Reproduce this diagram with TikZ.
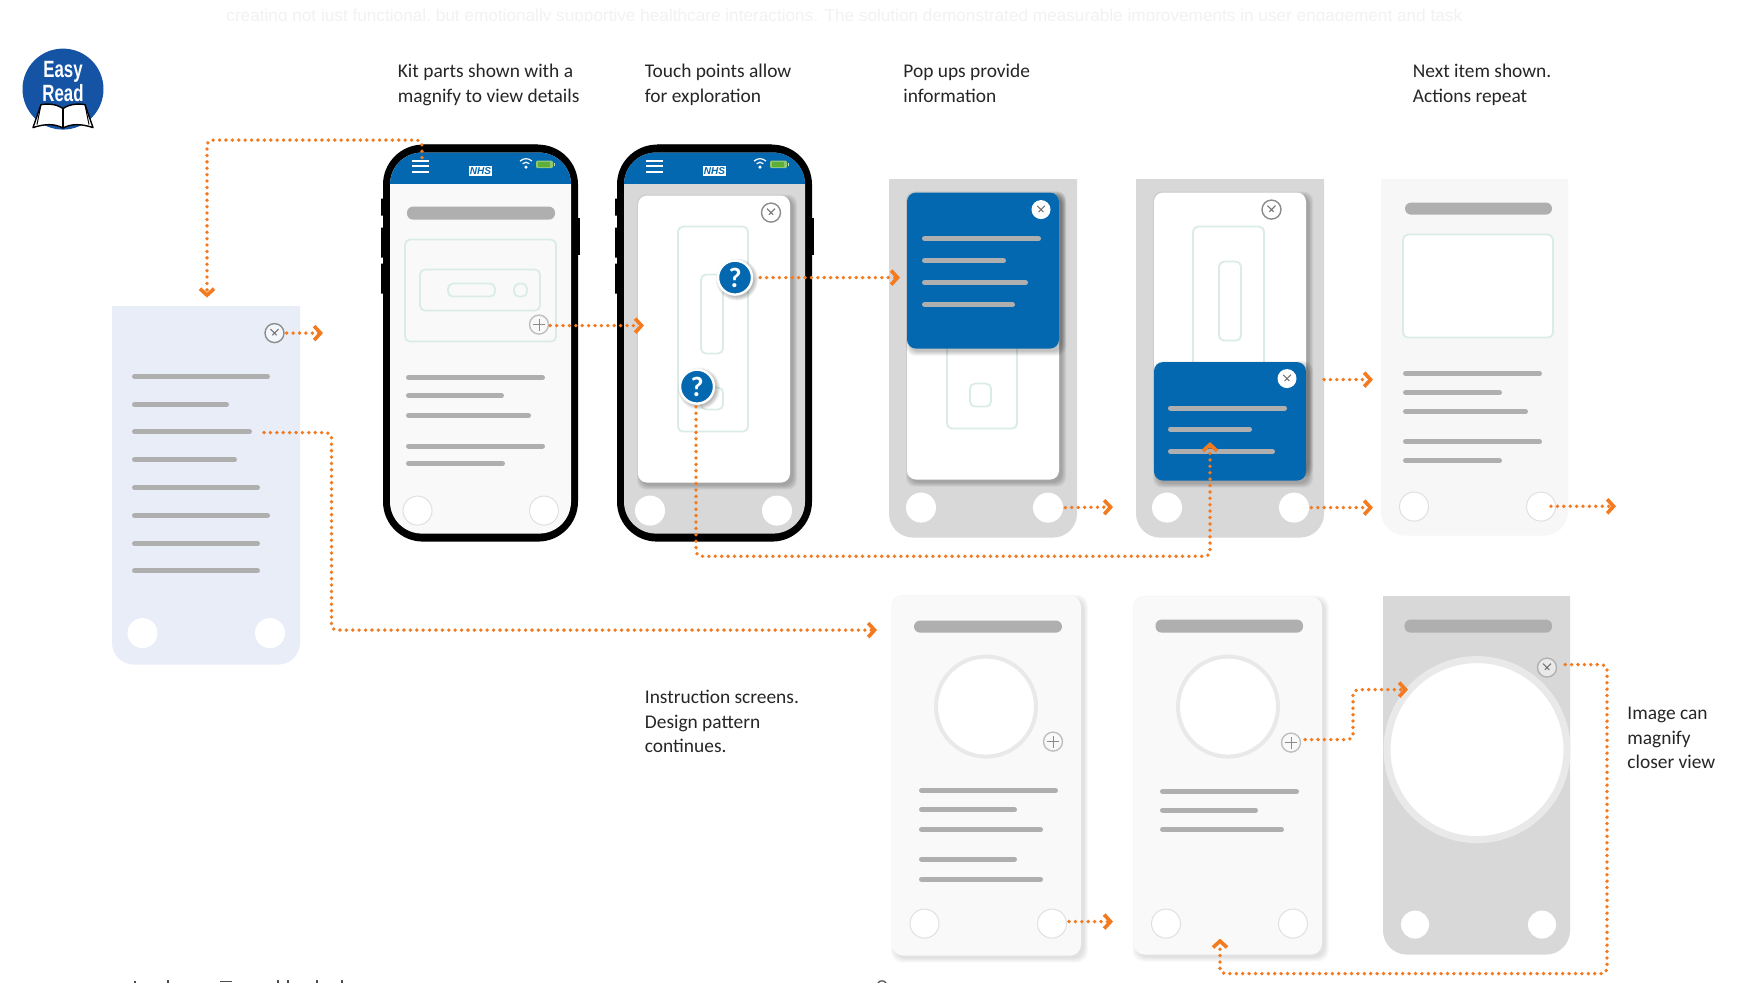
\documentclass[tikz,border=0pt]{standalone}
\usepackage{fontspec}
\setmainfont{Carlito}
\newfontfamily\ghostfont{Liberation Sans}
\usetikzlibrary{arrows.meta}
\definecolor{nhs}{HTML}{0468B1}
\definecolor{logoblue}{HTML}{1553A5}
\definecolor{flow}{HTML}{F47A1F}
\definecolor{bar}{HTML}{AFAFAF}
\definecolor{mint}{HTML}{D9EDE6}
\definecolor{panel}{HTML}{D8D8D8}
\definecolor{paper}{HTML}{F9F9F9}
\definecolor{tint}{HTML}{E8EDF8}
\definecolor{rim}{HTML}{E9E9E9}
\definecolor{batt}{HTML}{5DAF3A}
\tikzset{
  x=0.5pt,y=-0.5pt,
  flowline/.style={draw=flow,line width=1.9pt,line cap=round,dash pattern=on 0pt off 3.2pt,rounded corners=2.5pt,
    -{Straight Barb[length=3.2pt,width=7pt,line width=1.8pt,flow]}},
  caption/.style={anchor=west,inner sep=0pt,align=left,font=\fontsize{9.7pt}{12.3pt}\selectfont,text=black!85},
  txtbar/.style={line width=2.5pt,draw=bar,line cap=round,shorten <=1.25pt,shorten >=1.25pt},
  titlebar/.style={fill=bar,rounded corners=3pt},
  kit/.style={draw=mint,line width=0.9pt,rounded corners=2.5pt},
  btnw/.style={circle,fill=white,inner sep=0pt,minimum size=15pt},
  btnl/.style={circle,fill=white,draw=black!12,line width=0.5pt,inner sep=0pt,minimum size=14.5pt},
  ctl/.style={circle,draw=black!45,line width=0.7pt,inner sep=0pt,minimum size=9.5pt},
  qmark/.style={circle,fill=nhs,draw=white,line width=1.2pt,minimum size=17pt,inner sep=0pt,text=white,font=\fontsize{14pt}{14pt}\bfseries\selectfont},
  cutmark/.style={draw=black!70,line width=0.6pt},
}
\newcommand{\xglyph}[2][black!55]{\draw[#1,line width=0.5pt] (#2.45) ++(-1.6pt,-1.6pt) -- ++(-3.1pt,-3.1pt) (#2.135) ++(1.6pt,-1.6pt) -- ++(3.1pt,-3.1pt);}
\newcommand{\plusglyph}[1]{\draw[black!45,line width=0.5pt] (#1.center) ++(-3pt,0) -- ++(6pt,0) (#1.center) ++(0,-3pt) -- ++(0,6pt);}
\newcommand{\softcard}[7]{%
  \foreach \d in {4,3,2,1,0}
    \fill[black,opacity=#7,rounded corners=#6pt] ({#2+3-\d},{#3+3-\d}) rectangle ({#4+3+\d},{#5+3+\d});
  \fill[#1,rounded corners=#6pt] (#2,#3) rectangle (#4,#5);}
\newcommand{\lowround}[6]{%
  \begin{scope}\clip (#2,#3) rectangle (#4,#5);
  \fill[#1,rounded corners=#6pt] (#2,#3-60) rectangle (#4,#5);\end{scope}}
\newcommand{\roundshade}[2]{\foreach \d in {4,3,2,1,0} \fill[black,opacity=0.06] (#1+2,#2+2) circle ({17+\d});}
\newcommand{\phonebody}[3]{%
  \begin{scope}[shift={(#1,0)}]
    \fill[black] (-2,198) rectangle (2,215) (-2,227) rectangle (2,257) (-2,263) rectangle (2,293);
    \fill[black] (193,217) rectangle (197,254);
    \fill[black!60] (40,143.2) -- (155,143.2) -- (155,146) -- (40,146) -- cycle;
    \fill[black,rounded corners=20pt] (0,144) rectangle (195,541);
    \fill[#2,rounded corners=16pt] (7,152) rectangle (188,533);
    \begin{scope}
      \clip (7,183) rectangle (188,100);
      \fill[nhs,rounded corners=16pt] (7,152) rectangle (188,240);
    \end{scope}
    \foreach \yy in {160,165.5,171} \draw[white,line width=1pt] (29,\yy) -- (46,\yy);
    \node[fill=white,inner sep=0pt,minimum width=11.5pt,minimum height=5pt,text=nhs,
       font=\fontsize{5pt}{5pt}\ghostfont\bfseries\itshape] (#3nhs) at (97.5,170) {NHS};
    \fill[white] (143,166.5) circle (1.7);
    \draw[white,line width=0.6pt] (139.6,163.1) arc (-135:-45:4.8) (137.06,160.56) arc (-135:-45:8.4);
    \fill[white!30!batt,rounded corners=0.6pt] (153,160) rectangle (170,167.5);
    \fill[batt] (155,161.5) rectangle (167,166);
    \fill[white!60!batt] (170.5,162) rectangle (172,165.5);
  \end{scope}
}
\begin{document}
\begin{tikzpicture}
\useasboundingbox (0,-0.6) rectangle (1755,982.4);
\fill[white] (0,-0.6) rectangle (1755,982.4);

% ghost line at the top edge
\begin{scope}
  \clip (0,-0.6) rectangle (1755,20);
  \node[anchor=base west,inner sep=0pt,text=black!5,font=\fontsize{8.6pt}{10pt}\ghostfont] (ghost) at (226,21)
    {creating not just functional, but emotionally supportive healthcare interactions. The solution demonstrated measurable improvements in user engagement and task};
\end{scope}
% tips of unreadable strokes at the bottom edge
\draw[cutmark] (135,980.5) -- (135,983) (168,979.5) -- (168,983) (220,980.5) -- (232,980.5) (278,979.5) -- (278,983)
  (288,979.5) -- (288,983) (317,979.5) -- (317,983) (342,979.5) -- (342,983);
\draw[cutmark] (878,982.4) .. controls (879,979.5) and (885,979.5) .. (886,982.4);

% logo
\node[circle,fill=logoblue,minimum size=40.5pt,inner sep=0pt] (logo) at (63,88.5) {};
\node[inner sep=0pt,align=center,text=white,font=\fontsize{10.5pt}{10.6pt}\fontspec{Liberation Sans}\bfseries] (logotext) at (63,81) {\scalebox{0.8}[1.12]{Easy}\\\scalebox{0.8}[1.12]{Read}};
\draw[black,fill=white,line width=0.7pt,line join=round] (63,108) .. controls (56,103) and (47,103) .. (41,104) -- (33,127) .. controls (45,123) and (55,123) .. (63,127.5) .. controls (71,123) and (81,123) .. (93,127) -- (85,104) .. controls (79,103) and (70,103) .. (63,108) -- cycle;
\draw[black,line width=1.1pt] (63,108) -- (63,127.5);
\draw[black,line width=0.5pt] (41,104) -- (37,124) (85,104) -- (89,124);

% captions
\node[caption] (capA) at (397.5,84.5) {\strut Kit parts shown with a\\\strut magnify to view details};
\node[caption] (capB) at (644.5,84.5) {\strut Touch points allow\\\strut for exploration};
\node[caption] (capC) at (903,84.5) {\strut Pop ups provide\\\strut information};
\node[caption] (capD) at (1412.5,84.5) {\strut Next item shown.\\\strut Actions repeat};
\node[caption] (capE) at (644.5,722.5) {\strut Instruction screens.\\\strut Design pattern\\\strut continues.};
\node[caption] (capF) at (1627,738.5) {\strut Image can\\\strut magnify\\\strut closer view};

% screen 0
\lowround{tint}{112}{306}{300}{664}{11}
\node[ctl,fill=white!50!tint] (s0close) at (274.5,332.5) {};
\xglyph{s0close}
\foreach \yy/\xe in {376/270,404/229,431/252,459/237,487/260,515/270,543/260,570/260}
  \draw[txtbar] (132,\yy) -- (\xe,\yy);
\node[btnw] (s0a) at (142.5,632.5) {};
\node[btnw] (s0b) at (270,632.5) {};

% phone 1
\phonebody{383}{paper}{p1}
\fill[titlebar] (407,206) rectangle (555,219);
\draw[kit] (405,239) rectangle (556,341);
\draw[kit] (420,269) rectangle (540,310);
\draw[kit] (448,283) rectangle (495,296);
\draw[kit] (514,283) rectangle (527,296);
\node[ctl,fill=paper,draw=black!25] (p1plus) at (539,324) {};
\plusglyph{p1plus}
\foreach \yy/\xe in {377/545,395/504,415/531,445.5/545,463/505}
  \draw[txtbar] (406,\yy) -- (\xe,\yy);
\node[btnl] (p1a) at (417.5,510) {};
\node[btnl] (p1b) at (544,510) {};
\coordinate (p1menu) at (422,157);

% phone 2
\phonebody{617}{panel}{p2}
\softcard{white}{638}{195}{790}{482}{4.5}{0.05}
\node[ctl,fill=white] (p2close) at (771,212) {};
\xglyph{p2close}
\draw[kit] (678,226) rectangle (748,431);
\draw[kit] (701,274) rectangle (723,353);
\draw[kit] (701,387) rectangle (723,409);
\roundshade{735}{277}
\roundshade{697}{386}
\node[qmark] (q1) at (735,277) {?};
\node[qmark] (q2) at (697,386) {?};
\node[btnw] (p2a) at (650,510) {};
\node[btnw] (p2b) at (777,510) {};

% screen 3
\lowround{panel}{889}{179}{1077}{537}{12}
\softcard{white}{907}{192}{1059}{479}{4.5}{0.05}
\draw[kit] (947,340) rectangle (1017,428);
\draw[kit] (970,383) rectangle (991,406);
\softcard{nhs}{907}{192}{1059}{348}{4.5}{0.05}
\node[circle,fill=white,inner sep=0pt,minimum size=9.5pt] (s3close) at (1041,209) {};
\xglyph{s3close}
\foreach \yy/\xe in {238/1041,260/1006,282/1028,304/1015}
  \draw[txtbar] (922,\yy) -- (\xe,\yy);
\node[btnw] (s3a) at (921,507) {};
\node[btnw] (s3b) at (1048,507) {};

% screen 4
\lowround{panel}{1136}{179}{1324}{537}{12}
\softcard{white}{1154}{192}{1306}{470}{4.5}{0.05}
\node[ctl,fill=white] (s4close) at (1271.5,209) {};
\xglyph{s4close}
\draw[kit] (1193,226) rectangle (1264,372);
\draw[kit] (1219,261) rectangle (1241,340);
\softcard{nhs}{1154}{361.5}{1306}{480}{4.5}{0.05}
\node[circle,fill=white,inner sep=0pt,minimum size=9.5pt] (s4pop) at (1287,378) {};
\xglyph{s4pop}
\foreach \yy/\xe in {407.5/1287,428.7/1252,451/1275}
  \draw[txtbar] (1168,\yy) -- (\xe,\yy);
\node[btnw] (s4a) at (1167,507) {};
\node[btnw] (s4b) at (1294,507) {};

% screen 5
\lowround{black!3}{1381}{179}{1568}{535}{12}
\fill[titlebar] (1405,202) rectangle (1552,214);
\draw[kit,fill=white] (1403,234) rectangle (1553,337);
\foreach \yy/\xe in {373/1542,392/1502,411/1528,441/1542,460/1502}
  \draw[txtbar] (1403,\yy) -- (\xe,\yy);
\node[btnl] (s5a) at (1414,506) {};
\node[btnl] (s5b) at (1541,506) {};

% screen 6
\softcard{paper}{892}{595}{1081}{955}{5.5}{0.025}
\fill[titlebar] (914,620) rectangle (1062,632);
\node[circle,draw=rim,fill=white,line width=2pt,minimum size=50pt,inner sep=0pt] (s6img) at (986,706) {};
\node[ctl,fill=paper,draw=black!25] (s6plus) at (1053,741) {};
\plusglyph{s6plus}
\foreach \yy/\xe in {790/1058,809/1017,829/1043,858.5/1017,878.6/1043}
  \draw[txtbar] (919,\yy) -- (\xe,\yy);
\node[btnl] (s6a) at (924.5,923) {};
\node[btnl] (s6b) at (1052,923) {};

% screen 7
\softcard{paper}{1133.5}{596}{1322}{954}{5.5}{0.025}
\fill[titlebar] (1155.5,619) rectangle (1303,632);
\node[circle,draw=rim,fill=white,line width=2pt,minimum size=50pt,inner sep=0pt] (s7img) at (1228,706) {};
\node[ctl,fill=paper,draw=black!25] (s7plus) at (1291,742) {};
\plusglyph{s7plus}
\foreach \yy/\xe in {791/1299,809.5/1258,829/1284}
  \draw[txtbar] (1160,\yy) -- (\xe,\yy);
\node[btnl] (s7a) at (1166,923) {};
\node[btnl] (s7b) at (1293,923) {};

% screen 8
\lowround{panel}{1383}{596}{1570}{954}{12}
\fill[titlebar] (1404.5,619) rectangle (1552,632);
\node[circle,draw=rim,fill=white,line width=3.5pt,minimum size=90pt,inner sep=0pt] (s8img) at (1477,749) {};
\node[ctl,fill=rim,draw=black!30] (s8close) at (1547,667) {};
\xglyph{s8close}
\node[btnw,minimum size=14pt] (s8a) at (1415,924) {};
\node[btnw,minimum size=14pt] (s8b) at (1542,924) {};

% connector ends
\coordinate (endA) at (207,297);
\coordinate (endB) at (323,332.5);
\coordinate (endC) at (644,325);
\coordinate (endD) at (900,277);
\coordinate (endE) at (1210,441.5);
\coordinate (lineF) at (264,432);
\coordinate (endF) at (877,629.5);
\coordinate (endG) at (1113,506.5);
\coordinate (endH) at (1373,507);
\coordinate (startI) at (1324,379);
\coordinate (endI) at (1373,379);
\coordinate (endJ) at (1616,505.7);
\coordinate (endK) at (1113,921);
\coordinate (endL) at (1408,689);
\coordinate (endM) at (1220,938);

\draw[flowline] (p1menu) -- (422,139.5) -- (207,139.5) -- (endA);
\draw[flowline] (s0close.east) ++(2,0) -- (endB);
\draw[flowline] (p1plus.east) ++(1,1) -- (endC);
\draw[flowline] (q1.east) ++(7,0) -- (endD);
\draw[flowline] (q2.south) ++(-1,2) -- (696,555.7) -- (1210,555.7) -- (endE);
\draw[flowline] (lineF) -- (331.5,432) -- (331.5,629.5) -- (endF);
\draw[flowline] (s3b.east) ++(2,0) -- (endG);
\draw[flowline] (s4b.east) ++(2,0) -- (endH);
\draw[flowline] (startI) -- (endI);
\draw[flowline] (s5b.center) ++(10,-0.3) -- (endJ);
\draw[flowline] (s6b.east) ++(2,-2) -- (endK);
\draw[flowline] (s7plus.east) ++(4,-3) -- (1353,739) -- (1353,689) -- (endL);
\draw[flowline] (s8close.east) ++(8,-3) -- (1607,664) -- (1607,973) -- (1220,973) -- (endM);
\end{tikzpicture}
\end{document}
